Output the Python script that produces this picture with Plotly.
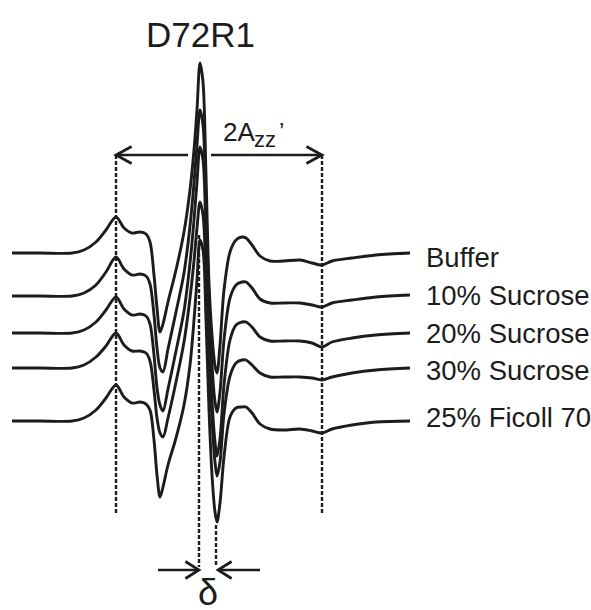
import plotly.graph_objects as go

# Magnetic field (G) sampling points shared by all spectra
field = [0, 7, 15, 18, 21, 23.5, 26, 28, 30, 32, 33.5, 34.5, 35.5, 36.25, 37,
         37.75, 39, 41, 43, 44.5, 45.5, 46.25, 47, 47.75, 48.5, 49.25, 50,
         50.75, 51.25, 52, 53, 54.5, 56, 57.5, 58.5, 60, 62, 64.5, 68, 72, 75,
         77.5, 80, 85, 91, 99.5]

# First-derivative EPR amplitudes (a.u.), relative to each spectrum's baseline
buffer = [0, 0, 0, 0.3, 1.1, 2.3, 3.6, 2.5, 2.0, 2.1, 1.9, 1.1, -2.2, -5.5, -7.9,
          -7.1, -4.9, -1.7, 2.1, 6.3, 10.3, 14.3, 19.0, 17.1, 7.8, -3.0, -8.2,
          -11.3, -12.0, -9.2, -3.7, 0.1, 1.3, 1.6, 1.5, 0.8, -0.3, -0.8, -0.8,
          -0.7, -1.0, -1.2, -0.8, -0.5, -0.2, 0]
sucrose10 = [0, 0, 0, 0.3, 1.1, 2.4, 3.9, 2.7, 2.1, 2.2, 2.0, 1.2, -1.9, -5.2, -7.2,
             -7.6, -5.3, -1.6, 2.3, 7.0, 11.3, 15.1, 18.6, 17.1, 9.1, -0.4, -6.9,
             -10.6, -11.6, -9.6, -4.4, -0.2, 1.1, 1.4, 1.4, 0.8, -0.3, -0.7, -0.7,
             -0.7, -0.9, -1.1, -0.7, -0.4, -0.1, 0.1]
sucrose20 = [0, 0, 0, 0.3, 1.1, 2.3, 3.6, 2.4, 1.8, 1.9, 1.7, 0.9, -2.2, -5.5, -7.2,
             -7.8, -5.6, -1.8, 2.2, 7.0, 11.3, 15.1, 18.6, 17.3, 9.8, 0.3, -6.7,
             -10.9, -12.3, -10.6, -5.2, -0.7, 0.8, 1.1, 1.1, 0.6, -0.4, -0.8, -0.8,
             -0.8, -1.0, -1.4, -0.9, -0.5, -0.2, 0]
sucrose30 = [0, 0, 0, 0.3, 1.1, 2.2, 3.5, 2.3, 1.7, 1.7, 1.5, 0.7, -2.2, -5.0, -6.5,
             -6.9, -5.0, -1.4, 2.6, 7.0, 10.7, 14.0, 16.6, 15.3, 9.3, 0.8, -5.2,
             -9.4, -10.8, -9.4, -4.6, -0.8, 0.5, 0.8, 0.8, 0.3, -0.5, -0.9, -0.9,
             -0.9, -1.0, -1.2, -0.9, -0.5, -0.2, 0]
ficoll25 = [0, 0, 0, 0.3, 1.1, 2.3, 3.6, 2.4, 1.8, 1.9, 1.7, 1.1, -1.9, -5.4, -7.6,
            -6.6, -4.4, -1.7, 1.6, 5.6, 10.1, 14.1, 18.1, 17.1, 10.1, 1.1, -5.4,
            -9.1, -10.1, -8.2, -3.6, 0.4, 1.3, 1.4, 1.4, 0.8, -0.3, -0.8, -0.9,
            -0.8, -1.0, -1.2, -0.8, -0.4, -0.1, 0]

labels = ["Buffer", "10% Sucrose", "20% Sucrose", "30% Sucrose", "25% Ficoll 70"]
spectra = [buffer, sucrose10, sucrose20, sucrose30, ficoll25]
offsets = [35.7, 31.4, 27.7, 24.2, 18.9]      # vertical stacking of the spectra
label_y = [35.3, 31.5, 27.7, 24.0, 19.3]      # label heights next to each spectrum

# Field positions marked on the figure
azz_low, azz_high = 26.0, 77.5      # outer hyperfine extrema (2Azz')
delta_low, delta_high = 46.75, 51.0  # central-line separation (delta)

ink = "#1c1c1c"
FONT = "Arial, Liberation Sans, sans-serif"

fig = go.Figure()

for name, amp, off, ly in zip(labels, spectra, offsets, label_y):
    fig.add_trace(go.Scatter(
        x=field, y=[off + a for a in amp], mode="lines", name=name,
        line=dict(color=ink, width=2.9, shape="spline", smoothing=0.9),
        showlegend=False, hoverinfo="skip"))
    fig.add_annotation(x=102.9, y=ly, text=name, showarrow=False,
                       xanchor="left", yanchor="middle",
                       font=dict(family=FONT, size=27.5, color=ink))

shapes = []
dash = dict(color=ink, width=2.4, dash="4px,2px")
arrow_y = 45.5
# Dashed guides for 2Azz'
for xv in (azz_low, azz_high):
    shapes.append(dict(type="line", xref="x", yref="y", x0=xv, x1=xv,
                       y0=arrow_y, y1=9.5, line=dash, layer="below"))
# Dashed guides for delta
shapes.append(dict(type="line", xref="x", yref="y", x0=delta_low, x1=delta_low,
                   y0=37.5, y1=4.3, line=dash, layer="below"))
shapes.append(dict(type="line", xref="x", yref="y", x0=delta_high, x1=delta_high,
                   y0=8.5, y1=4.3, line=dash, layer="below"))

solid = dict(color=ink, width=2.7)
# 2Azz' double arrow, interrupted where the central line passes
shapes.append(dict(type="line", xref="x", yref="y", x0=azz_low, x1=44.0,
                   y0=arrow_y, y1=arrow_y, line=solid))
shapes.append(dict(type="line", xref="x", yref="y", x0=49.75, x1=azz_high,
                   y0=arrow_y, y1=arrow_y, line=solid))
shapes.append(dict(type="path", xref="x", yref="y", line=solid,
                   path=f"M {azz_low+3.9},{arrow_y+0.85} L {azz_low},{arrow_y} L {azz_low+3.9},{arrow_y-0.85}"))
shapes.append(dict(type="path", xref="x", yref="y", line=solid,
                   path=f"M {azz_high-3.9},{arrow_y+0.85} L {azz_high},{arrow_y} L {azz_high-3.9},{arrow_y-0.85}"))

# Delta arrows pointing inward
d_y = 4.0
shapes.append(dict(type="line", xref="x", yref="y", x0=36.5, x1=delta_low,
                   y0=d_y, y1=d_y, line=solid))
shapes.append(dict(type="path", xref="x", yref="y", line=solid,
                   path=f"M {delta_low-3.4},{d_y+0.85} L {delta_low},{d_y} L {delta_low-3.4},{d_y-0.85}"))
shapes.append(dict(type="line", xref="x", yref="y", x0=delta_high + 0.5, x1=62.0,
                   y0=d_y, y1=d_y, line=solid))
shapes.append(dict(type="path", xref="x", yref="y", line=solid,
                   path=f"M {delta_high+3.9},{d_y+0.85} L {delta_high+0.5},{d_y} L {delta_high+3.9},{d_y-0.85}"))

fig.add_annotation(x=47.2, y=57.6, text="D72R1", showarrow=False,
                   font=dict(family=FONT, size=35, color=ink))
# 2Azz' label built from its parts
fig.add_annotation(x=52.2, y=46.1, text="2A", showarrow=False,
                   xanchor="left", yanchor="bottom",
                   font=dict(family=FONT, size=26, color=ink))
fig.add_annotation(x=60.0, y=45.6, text="zz", showarrow=False,
                   xanchor="left", yanchor="bottom",
                   font=dict(family=FONT, size=22, color=ink))
fig.add_annotation(x=66.2, y=46.3, text="’", showarrow=False,
                   xanchor="left", yanchor="bottom",
                   font=dict(family=FONT, size=24, color=ink))
fig.add_annotation(x=48.9, y=0.0, yshift=-5, text="δ", showarrow=False,
                   yanchor="bottom",
                   font=dict(family=FONT, size=36, color=ink))

fig.update_layout(
    width=591, height=610,
    margin=dict(l=0, r=0, t=0, b=0),
    paper_bgcolor="white", plot_bgcolor="white",
    xaxis=dict(range=[-3, 144.75], visible=False, fixedrange=True),
    yaxis=dict(range=[0, 61], visible=False, fixedrange=True),
    shapes=shapes,
)

fig.write_html("out.html")
